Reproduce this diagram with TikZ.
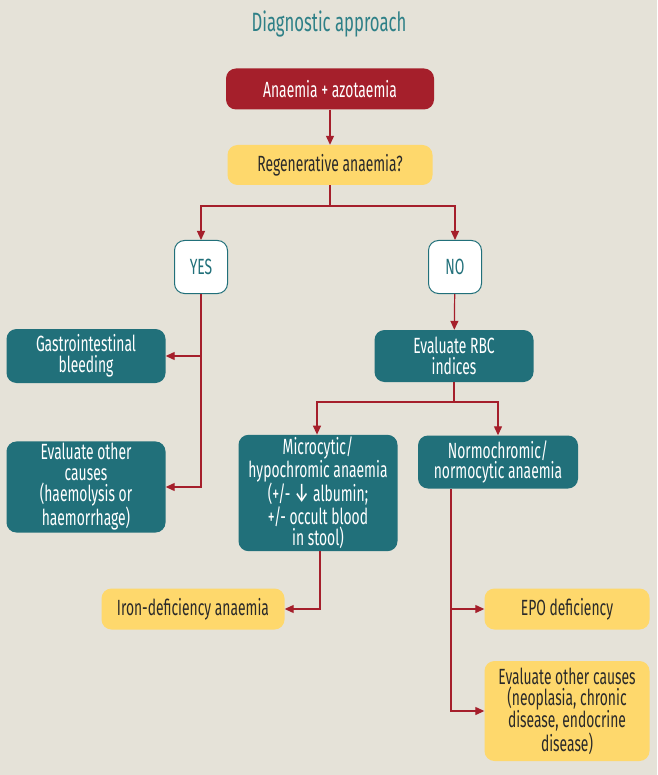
\documentclass[tikz,border=0pt]{standalone}
\usepackage{fontspec}
\setmainfont[FakeStretch=0.63]{Fira Sans}
\usetikzlibrary{arrows.meta}
\definecolor{bg}{HTML}{E5E2D8}
\definecolor{teal}{HTML}{21707A}
\definecolor{titleteal}{HTML}{2E8087}
\definecolor{dred}{HTML}{A51F2B}
\definecolor{yel}{HTML}{FED86C}
\definecolor{txt}{HTML}{2A2A2A}
\tikzset{
  box/.style={rounded corners=10pt, align=center, inner sep=2pt, font=\fontsize{22}{20.8}\selectfont},
  tealbox/.style={box, fill=teal, text=white},
  yelbox/.style={box, fill=yel, text=txt},
  redbox/.style={box, fill=dred, text=white},
  ansbox/.style={box, fill=white, draw=teal, line width=1pt, text=teal},
  arr/.style={draw=dred, line width=1.2pt, -{Triangle[length=9pt,width=8pt]}},
  ln/.style={draw=dred, line width=1.2pt}
}
\newcommand{\bigdown}{{\fontsize{27}{20}\selectfont ↓}}
\begin{document}
\begin{tikzpicture}[x=1pt,y=-1pt]
\fill[bg] (0,0) rectangle (657,775);
\useasboundingbox (0,0) rectangle (657,775);
\node[text=titleteal, font=\fontsize{26.5}{28}\selectfont] (title) at (329,24) {Diagnostic approach};
\node[redbox, minimum width=208pt, minimum height=41pt] (an) at (330,89) {Anaemia + azotaemia};
\node[yelbox, minimum width=205pt, minimum height=40pt] (reg) at (330,165) {Regenerative anaemia?};
\node[ansbox, minimum width=53pt, minimum height=53pt] (yes) at (201,267) {YES};
\node[ansbox, minimum width=53pt, minimum height=53pt] (no) at (455,267) {NO};
\node[tealbox, minimum width=159pt, minimum height=54pt] (gi) at (86,356) {Gastrointestinal\\bleeding};
\node[tealbox, minimum width=159pt, minimum height=91pt] (eoa) at (86,487) {Evaluate other\\causes\\(haemolysis or\\haemorrhage)};
\node[tealbox, minimum width=159pt, minimum height=52pt] (rbc) at (454,356) {Evaluate RBC\\indices};
\node[tealbox, minimum width=159pt, minimum height=115pt] (mic) at (318,493) {Microcytic/\\hypochromic anaemia\\(+/- \bigdown\ albumin;\\+/- occult blood\\in stool)};
\node[tealbox, minimum width=160pt, minimum height=53pt] (nor) at (498,462) {Normochromic/\\normocytic anaemia};
\node[yelbox, minimum width=183pt, minimum height=41pt] (iron) at (193,609) {Iron-deficiency anaemia};
\node[yelbox, minimum width=165pt, minimum height=41pt] (epo) at (567,609) {EPO deficiency};
\node[yelbox, minimum width=165pt, minimum height=100pt] (eob) at (567,711) {Evaluate other causes\\(neoplasia, chronic\\disease, endocrine\\disease)};
\coordinate (split1) at (330,206);
\coordinate (split2) at (454,402);
\coordinate (ntap) at (451,489);
\draw[arr] (an) -- (reg);
\draw[ln] (reg.south) -- (split1);
\draw[arr] (split1) -| (yes.north);
\draw[arr] (split1) -| (no.north);
\draw[arr] (yes.south) |- (eoa.east);
\draw[arr] (yes.south) |- (gi.east);
\draw[arr] (no) -- (rbc);
\draw[ln] (rbc.south) -- (split2);
\draw[arr] (split2) -| ([xshift=-1pt]mic.north);
\draw[arr] (split2) -| (nor.north);
\draw[arr] ([xshift=2pt]mic.south) |- (iron.east);
\draw[arr] (ntap) |- (epo.west);
\draw[arr] (ntap) |- (eob.west);
\end{tikzpicture}
\end{document}
